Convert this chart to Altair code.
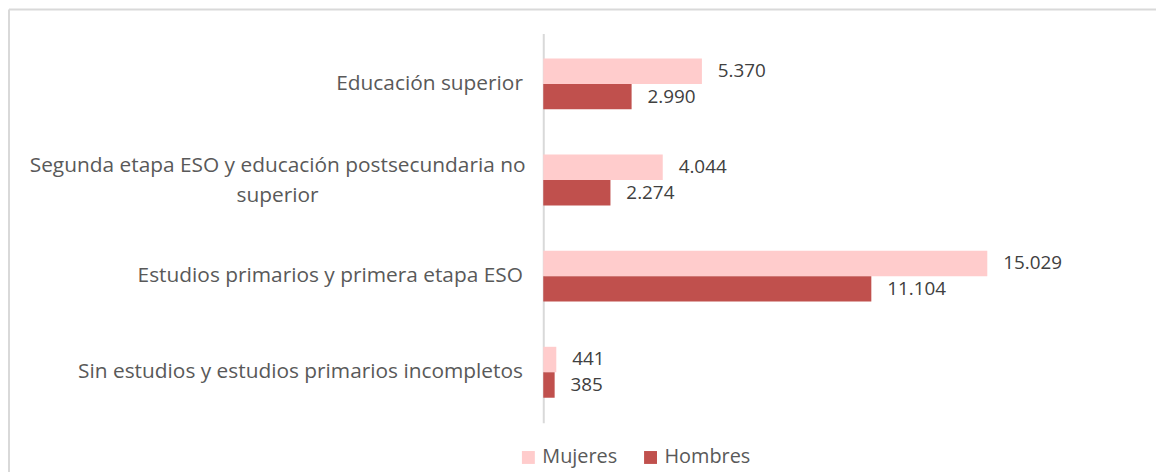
import altair as alt
import pandas as pd

categorias = [
    "Educación superior",
    "Segunda etapa ESO y educación postsecundaria no superior",
    "Estudios primarios y primera etapa ESO",
    "Sin estudios y estudios primarios incompletos",
]
mujeres = [5370, 4044, 15029, 441]
hombres = [2990, 2274, 11104, 385]
series = ["Mujeres", "Hombres"]
colores = ["#FFCCCC", "#C0504D"]

rows = []
for c, m, h in zip(categorias, mujeres, hombres):
    rows.append({"cat": c, "sexo": "Mujeres", "v": m, "lbl": f"{m:,}".replace(",", ".")})
    rows.append({"cat": c, "sexo": "Hombres", "v": h, "lbl": f"{h:,}".replace(",", ".")})
df = pd.DataFrame(rows)

FONT = "Open Sans"
FS = 21
LONG = "Segunda etapa ESO y educación postsecundaria no superior"
IS_LONG = f"datum.value == '{LONG}'"

label_expr = (
    f"datum.label == '{LONG}' ? "
    "['Segunda etapa ESO y educación postsecundaria no', 'superior'] : datum.label"
)

base = alt.Chart(df).encode(
    y=alt.Y(
        "cat:N",
        sort=categorias,
        scale=alt.Scale(paddingInner=0.47, paddingOuter=0.26),
        axis=alt.Axis(
            title=None,
            domain=True,
            domainColor="#D9D9D9",
            domainWidth=2,
            ticks=False,
            grid=False,
            labelFont=FONT,
            labelFontSize=FS,
            labelColor="#595959",
            labelLimit=700,
            labelPadding={"condition": {"test": IS_LONG, "value": 268}, "value": 21},
            labelAlign={"condition": {"test": IS_LONG, "value": "center"}, "value": "right"},
            labelOffset={"condition": {"test": IS_LONG, "value": -14}, "value": 0},
            labelExpr=label_expr,
            labelLineHeight=30,
        ),
    ),
    yOffset=alt.YOffset("sexo:N", sort=series),
    x=alt.X("v:Q", scale=alt.Scale(domain=[0, 16000]), axis=None),
)

bars = base.mark_bar().encode(
    color=alt.Color(
        "sexo:N",
        sort=series,
        scale=alt.Scale(domain=series, range=colores),
        legend=alt.Legend(
            title=None,
            orient="none",
            legendX=-25,
            legendY=417,
            direction="horizontal",
            symbolType="square",
            symbolSize=169,
            symbolStrokeWidth=0,
            labelFont=FONT,
            labelFontSize=20,
            labelColor="#595959",
            labelOffset=4,
            columnPadding=23,
        ),
    )
)

texts = base.mark_text(
    align="left", baseline="middle", dx=16, font=FONT, fontSize=19, color="#404040"
).encode(text="lbl:N")

border_df = pd.DataFrame({"a": [0]})
border_left = alt.Chart(border_df).mark_rule(color="#D9D9D9", strokeWidth=2).encode(
    x=alt.value(-538), y=alt.value(-24), y2=alt.value(460)
)
border_top = alt.Chart(border_df).mark_rule(color="#D9D9D9", strokeWidth=2).encode(
    x=alt.value(-538), x2=alt.value(640), y=alt.value(-24)
)

chart = (
    alt.layer(border_left, border_top, bars, texts)
    .properties(
        width=476,
        height=392,
        autosize=alt.AutoSizeParams(type="none"),
        padding={"left": 539, "top": 24, "right": 141, "bottom": 48},
        background="white",
    )
    .configure_view(stroke=None)
)

chart.save("out.html", embed_options={"renderer": "svg", "actions": False})
